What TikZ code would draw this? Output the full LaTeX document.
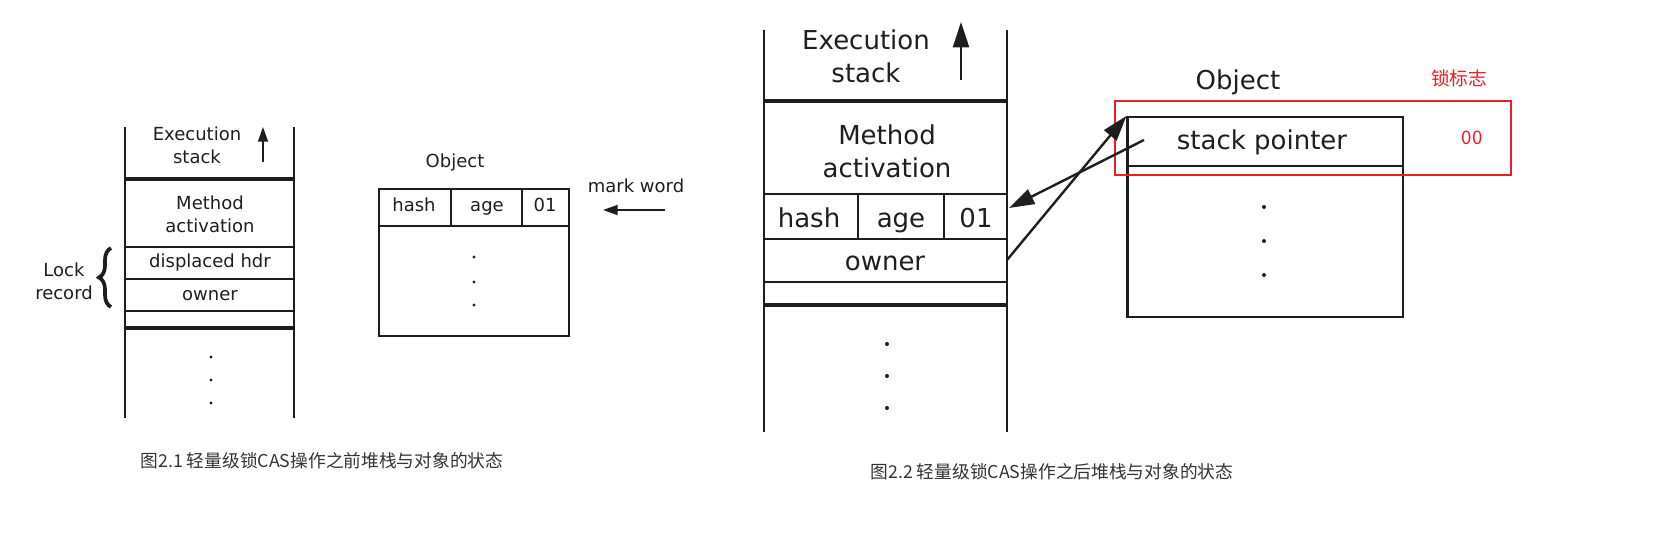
\documentclass[tikz,border=0pt]{standalone}
\usepackage{fontspec}
\setmainfont{DejaVu Sans}
\newfontfamily\cjk{Noto Sans CJK SC}
\usetikzlibrary{arrows.meta,calc,decorations.pathreplacing}
\definecolor{inkDark}{HTML}{1E1E1E}
\definecolor{inkGrey}{HTML}{333333}
\definecolor{flagRed}{HTML}{EE1C25}

\begin{document}
\begin{tikzpicture}[x=0.75pt, y=-0.75pt,
  thinL/.style  ={draw=inkDark, line width=1.3pt},
  thickL/.style ={draw=inkDark, line width=2.6pt},
  thinR/.style  ={draw=inkDark, line width=1.6pt},
  thickR/.style ={draw=inkDark, line width=3.4pt},
  txtL/.style   ={font=\fontsize{13.5}{17.25}\selectfont, text=inkDark, inner sep=0pt, align=center},
  txtR/.style   ={font=\fontsize{19.5}{24.5}\selectfont, text=inkDark, inner sep=0pt, align=center},
  cellTxt/.style={text height=0.76em, text depth=0.24em},
  dotMark/.style={circle, fill=inkDark, inner sep=0pt, minimum size=2.4pt},
  smallArr/.style={-{Triangle[length=11pt, width=7.5pt]}, draw=inkDark, line width=1.3pt},
  bigArr/.style ={-{Triangle[length=19pt, width=12pt]}, draw=inkDark, line width=1.8pt},
  capTxt/.style ={font=\cjk\fontsize{13.3}{16}\selectfont, text=inkGrey, inner sep=0pt},
  redTxt/.style ={font=\cjk\fontsize{14}{16}\selectfont, text=flagRed, inner sep=0pt},
]
\useasboundingbox (0,0) rectangle (1671,546);

% before CAS: stack
\draw[thinL] (125,127) -- (125,418);
\draw[thinL] (294,127) -- (294,418);
\draw[thickL] (125,179) -- (294,179);
\foreach \yy in {247,279,311} \draw[thinL] (125,\yy) -- (294,\yy);
\draw[thickL] (125,328) -- (294,328);

\node[txtL] (execL) at (197,145.5) {Execution\\stack};
\coordinate (upL0) at (263,162);
\coordinate (upL1) at (263,127);
\draw[smallArr] (upL0) -- (upL1);
\node[txtL] (methL) at (210,214.5) {Method\\activation};
\node[txtL] (dispL) at (210,263) {displaced hdr};
\node[txtL] (ownL)  at (210,296) {owner};
\foreach \yy [count=\i] in {357,380,403} \node[dotMark] (dotL\i) at (211,\yy) {};

\draw[decorate, decoration={brace, amplitude=9pt}, line width=2.8pt, draw=inkDark] (111,307) -- (111,248);
\node[txtL] (lockL) at (64,281.5) {Lock\\record};

% before CAS: object
\node[txtL] (objLblL) at (455,163) {Object};
\draw[thinL] (379,189) rectangle (569,336);
\draw[thinL] (379,226) -- (569,226);
\draw[thinL] (451,189) -- (451,226);
\draw[thinL] (522,189) -- (522,226);
\node[txtL, cellTxt] (hashL) at (414,208.5) {hash};
\node[txtL, cellTxt] (ageL)  at (487,208.5) {age};
\node[txtL, cellTxt] (bitsL) at (545,208.5) {01};
\foreach \yy [count=\i] in {257,282,305} \node[dotMark] (dotO\i) at (474,\yy) {};

\node[txtL] (markL) at (636,186) {mark word};
\coordinate (markT) at (665,210);
\coordinate (markH) at (603,210);
\draw[smallArr] (markT) -- (markH);

% after CAS: stack
\draw[thinR] (764,30) -- (764,432);
\draw[thinR] (1007,30) -- (1007,432);
\draw[thickR] (764,101) -- (1007,101);
\foreach \yy in {194,239,282} \draw[thinR] (764,\yy) -- (1007,\yy);
\draw[thickR] (764,305) -- (1007,305);
\draw[thinR] (858,194) -- (858,239);
\draw[thinR] (944,194) -- (944,239);

\node[txtR] (execR) at (866,56) {Execution\\stack};
\coordinate (upR0) at (961,80);
\coordinate (upR1) at (961,22);
\draw[bigArr] (upR0) -- (upR1);
\node[txtR] (methR) at (887,151) {Method\\activation};
\node[txtR, cellTxt] (hashR) at (809,224) {hash};
\node[txtR, cellTxt] (ageR)  at (901,224) {age};
\node[txtR, cellTxt] (bitsR) at (976,224) {01};
\node[txtR] (ownR)  at (885,263) {owner};
\foreach \yy [count=\i] in {344,376,408} \node[dotMark, minimum size=3pt] (dotR\i) at (887,\yy) {};

% after CAS: object
\node[txtR] (objLblR) at (1238,82) {Object};
\node[thinR, minimum width=206.6pt, minimum height=150pt, inner sep=0pt] (objR) at (1265.25,217) {};
\draw[thinR] (1127.5,166) -- (1403,166);
\node[txtR] (spR) at (1262,142) {stack pointer};
\foreach \yy [count=\i] in {207,241,275} \node[dotMark, minimum size=3pt] (dotP\i) at (1264,\yy) {};

\draw[draw=flagRed, line width=1.6pt] (1115,101) rectangle (1511,175);
\node[redTxt] (flagLbl) at (1459,78) {锁标志};
\node[redTxt] (flagVal) at (1472,137.5) {00};

% pointers
\coordinate (spTail) at (1144,140);
\coordinate (hashTip) at (1009,208);
\coordinate (ownTail) at (1007,260);
\draw[bigArr] (spTail) -- (hashTip);
\draw[bigArr] (ownTail) -- (objR.north west);

% captions
\node[capTxt] (capL) at (322,461) {图2.1 轻量级锁CAS操作之前堆栈与对象的状态};
\node[capTxt] (capR) at (1052,472) {图2.2 轻量级锁CAS操作之后堆栈与对象的状态};
\end{tikzpicture}
\end{document}
